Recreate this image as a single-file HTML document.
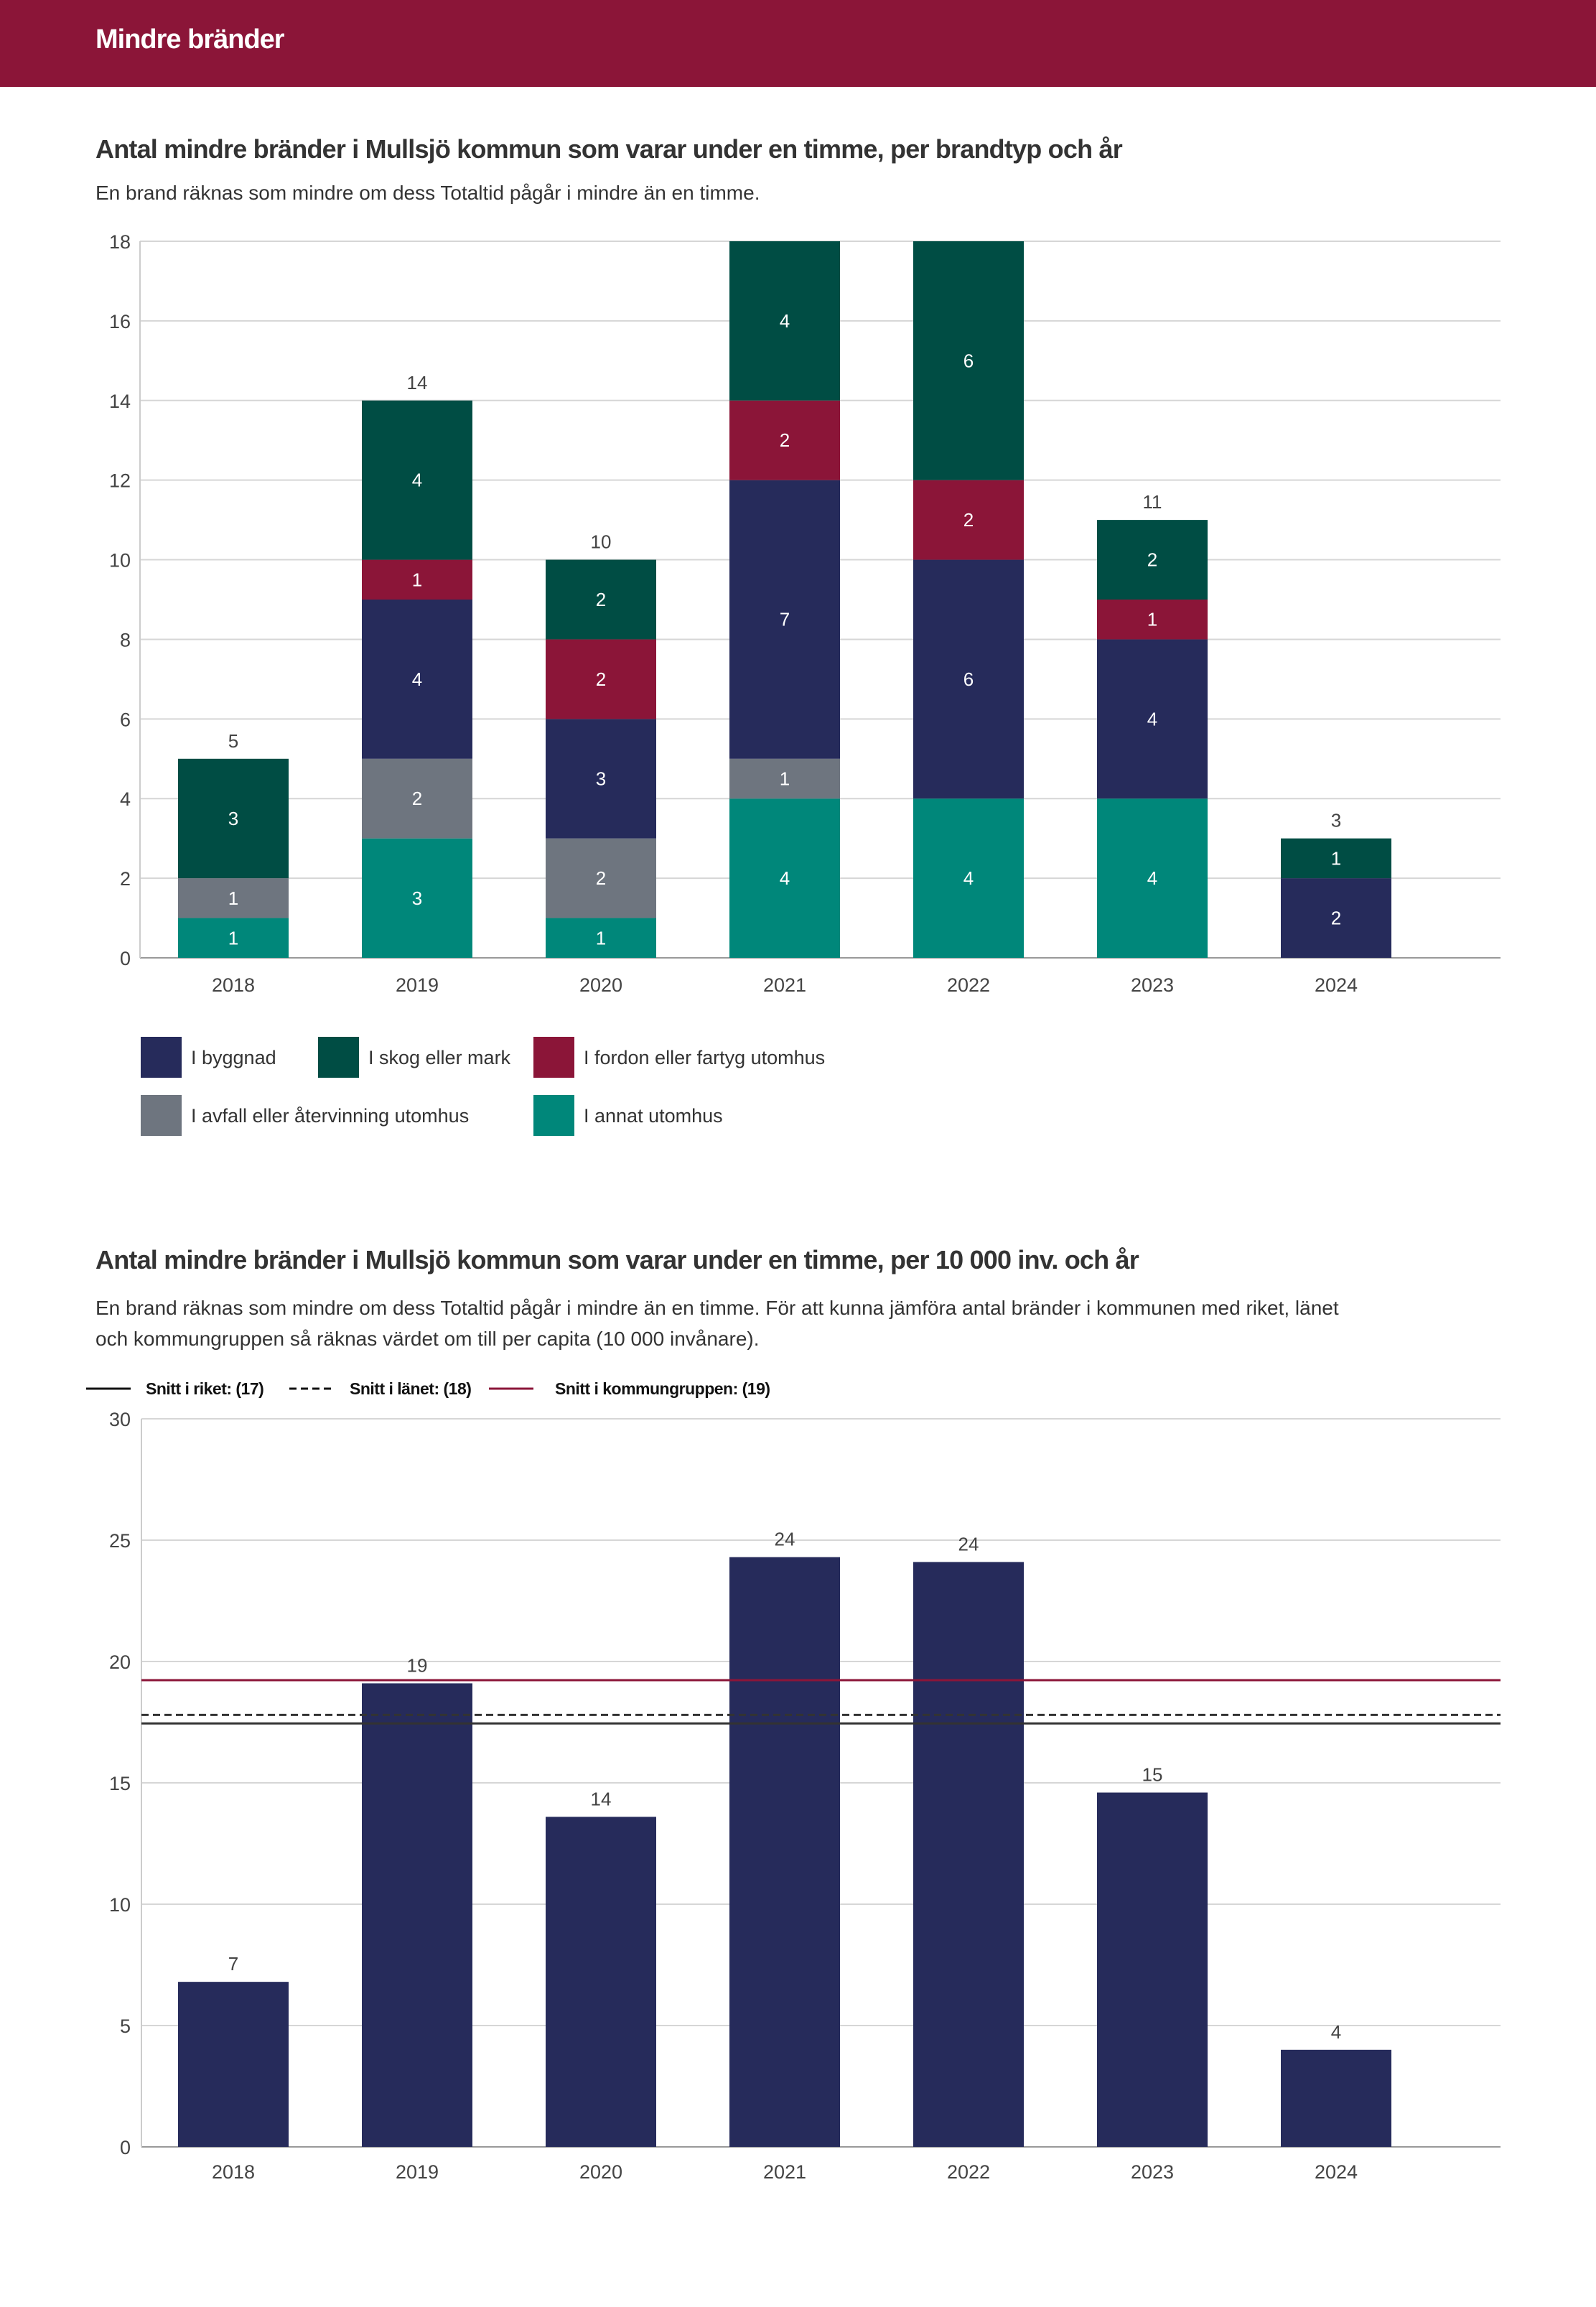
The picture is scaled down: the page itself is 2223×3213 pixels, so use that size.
<!DOCTYPE html>
<html><head><meta charset="utf-8">
<style>
html,body{margin:0;padding:0;background:#fff;}
body{width:2223px;height:3213px;position:relative;overflow:hidden;font-family:"Liberation Sans",sans-serif;color:#333;}
.hdr{position:absolute;left:0;top:0;width:2223px;height:121px;background:#8B1538;}
.hdr span{position:absolute;left:133px;top:34px;font-size:38px;font-weight:bold;color:#fff;letter-spacing:-1px;}
.t{position:absolute;left:133px;font-size:36px;font-weight:bold;color:#333;letter-spacing:-0.8px;white-space:nowrap;}
.s{position:absolute;left:133px;font-size:28px;color:#333;line-height:43px;}
svg{position:absolute;left:0;top:0;}
</style></head>
<body>
<div class="hdr"><span>Mindre bränder</span></div>
<div class="t" style="top:187px">Antal mindre bränder i Mullsjö kommun som varar under en timme, per brandtyp och år</div>
<div class="s" style="top:247px">En brand räknas som mindre om dess Totaltid pågår i mindre än en timme.</div>
<div class="t" style="top:1734px">Antal mindre bränder i Mullsjö kommun som varar under en timme, per 10 000 inv. och år</div>
<div class="s" style="top:1800px;width:1740px">En brand räknas som mindre om dess Totaltid pågår i mindre än en timme. För att kunna jämföra antal bränder i kommunen med riket, länet och kommungruppen så räknas värdet om till per capita (10 000 invånare).</div>
<svg id="c" width="2223" height="3213"></svg>
<script>
const years=["2018","2019","2020","2021","2022","2023","2024"];
const annat=[1,3,1,4,4,4,0];
const avfall=[1,2,2,1,0,0,0];
const byggnad=[0,4,3,7,6,4,2];
const fordon=[0,1,2,2,2,1,0];
const skog=[3,4,2,4,6,2,1];
const ticks1=[0,2,4,6,8,10,12,14,16,18];
const perCap=[6.8,19.1,13.6,24.3,24.1,14.6,4.0];
const perCapLabels=["7","19","14","24","24","15","4"];
const ticks2=[0,5,10,15,20,25,30];
const riket=17.45, lanet=17.8, grupp=19.23;

const NS="http://www.w3.org/2000/svg";
const svg=document.getElementById('c');
function mk(tag,attrs,parent){const e=document.createElementNS(NS,tag);for(const k in attrs)e.setAttribute(k,attrs[k]);(parent||svg).appendChild(e);return e;}
const F='"Liberation Sans",sans-serif';
const X0=195,X1=2090,C0=325,STEP=256,BW=154;
const xc=i=>C0+i*STEP;
// chart 1
const y1=v=>1334-v*(998/18);
ticks1.forEach(t=>{
  const l=mk('line',{x1:X0,x2:X1,y1:y1(t),y2:y1(t),stroke:t===0?'#999':'#d6d6d6','stroke-width':2});
  
  const tx=mk('text',{x:182,y:y1(t)+10,'text-anchor':'end','font-size':27,fill:'#444','font-family':F});tx.textContent=t;
  
});
const ya=mk('line',{x1:X0,x2:X0,y1:y1(18),y2:y1(0),stroke:'#ccc','stroke-width':2});

const series=[["annat",annat,"#00877A"],["avfall",avfall,"#6E757F"],["byggnad",byggnad,"#262B5B"],["fordon",fordon,"#8B1538"],["skog",skog,"#004D44"]];
years.forEach((yr,i)=>{
  let acc=0;
  series.forEach(([nm,arr,col])=>{
    const v=arr[i]; if(!v)return;
    const r=mk('rect',{x:xc(i)-BW/2,y:y1(acc+v),width:BW,height:y1(acc)-y1(acc+v),fill:col});
    
    const t=mk('text',{x:xc(i),y:(y1(acc)+y1(acc+v))/2+9,'text-anchor':'middle','font-size':26,fill:'#fff','font-family':F});t.textContent=v;
    
    acc+=v;
  });
  if(acc<18){const t=mk('text',{x:xc(i),y:y1(acc)-16,'text-anchor':'middle','font-size':26,fill:'#444','font-family':F});t.textContent=acc;
  }
  const xl=mk('text',{x:xc(i),y:1381,'text-anchor':'middle','font-size':27,fill:'#444','font-family':F});xl.textContent=yr;
  
});
const leg=[["I byggnad","#262B5B",196,1444],["I skog eller mark","#004D44",443,1444],["I fordon eller fartyg utomhus","#8B1538",743,1444],["I avfall eller återvinning utomhus","#6E757F",196,1525],["I annat utomhus","#00877A",743,1525]];
leg.forEach(([lab,col,x,y])=>{
  const r=mk('rect',{x:x,y:y,width:57,height:57,fill:col});
  
  const t=mk('text',{x:x+70,y:y+38,'font-size':27,fill:'#333','font-family':F});t.textContent=lab;
  
});
// chart 2
const y2=v=>2990-v*(1014/30);
ticks2.forEach(t=>{
  const l=mk('line',{x1:197,x2:X1,y1:y2(t),y2:y2(t),stroke:t===0?'#999':'#d6d6d6','stroke-width':2});
  
  const tx=mk('text',{x:182,y:y2(t)+10,'text-anchor':'end','font-size':27,fill:'#444','font-family':F});tx.textContent=t;
  
});
const ya2=mk('line',{x1:197,x2:197,y1:y2(30),y2:y2(0),stroke:'#ccc','stroke-width':2});

years.forEach((yr,i)=>{
  const v=perCap[i];
  const r=mk('rect',{x:xc(i)-BW/2,y:y2(v),width:BW,height:y2(0)-y2(v),fill:'#262B5B'});
  
  const t=mk('text',{x:xc(i),y:y2(v)-16,'text-anchor':'middle','font-size':26,fill:'#444','font-family':F});t.textContent=perCapLabels[i];
  
  const xl=mk('text',{x:xc(i),y:3034,'text-anchor':'middle','font-size':27,fill:'#444','font-family':F});xl.textContent=yr;
  
});
const refs=[["riket",riket,"#333",""],["lanet",lanet,"#333","10,6"],["grupp",grupp,"#8B1538",""]];
refs.forEach(([nm,v,col,d])=>{
  const l=mk('line',{x1:197,x2:X1,y1:y2(v),y2:y2(v),stroke:col,'stroke-width':3,'stroke-dasharray':d});
  
});
const leg2=[["Snitt i riket: (17)","#111","",120,203],["Snitt i länet: (18)","#111","10,6",403,487],["Snitt i kommungruppen: (19)","#8B1538","",681,773]];
leg2.forEach(([lab,col,d,x,tx])=>{
  const l=mk('line',{x1:x,x2:x+62,y1:1934,y2:1934,stroke:col,'stroke-width':3,'stroke-dasharray':d});
  
  const t=mk('text',{x:tx,y:1942,'font-size':23,'font-weight':'bold',fill:'#111','font-family':F,'letter-spacing':'-0.5'});t.textContent=lab;
  
});
</script>
</body></html>
